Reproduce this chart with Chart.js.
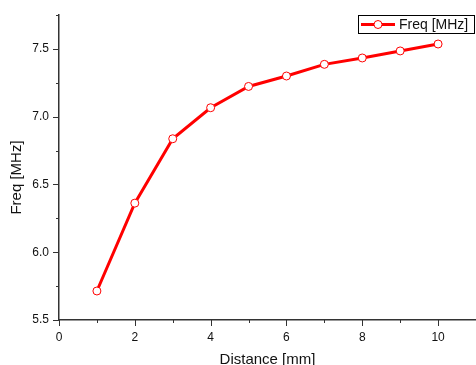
<!DOCTYPE html>
<html><head><meta charset="utf-8">
<script src="https://cdn.jsdelivr.net/npm/chart.js@4.4.0/dist/chart.umd.min.js"></script>
<style>html,body{margin:0;padding:0;background:#fff;overflow:hidden}#wrap{width:476px;height:365px;position:relative}</style>
</head><body><div id="wrap"><canvas id="c" width="476" height="365"></canvas></div>
<script>
const distances = [1, 2, 3, 4, 5, 6, 7, 8, 9, 10];
const freqs = [5.714, 6.362, 6.837, 7.066, 7.223, 7.300, 7.386, 7.433, 7.485, 7.536];
const seriesLabel = 'Freq [MHz]';
const xTitle = 'Distance [mm]';
const yTitle = 'Freq [MHz]';

const FONT = '"Liberation Sans", Arial, Helvetica, sans-serif';
Chart.defaults.font.family = FONT;
Chart.defaults.color = '#111';

const isHalf = v => Math.abs(v * 2 - Math.round(v * 2)) < 1e-6;

const decor = {
  id: 'decor',
  afterDraw(chart) {
    const {ctx, scales: {x, y}} = chart;
    ctx.save();
    ctx.strokeStyle = '#333';
    ctx.lineWidth = 1;
    ctx.beginPath();
    x.ticks.forEach(t => {
      const px = Math.round(x.getPixelForValue(t.value)) + 0.5;
      const len = (Math.round(t.value) % 2 === 0) ? 6 : 3;
      ctx.moveTo(px, x.top); ctx.lineTo(px, x.top + len);
    });
    y.ticks.forEach(t => {
      const py = Math.round(y.getPixelForValue(t.value)) + 0.5;
      const len = isHalf(t.value) ? 6 : 3;
      ctx.moveTo(y.right - len, py); ctx.lineTo(y.right, py);
    });
    ctx.stroke();

    // y-axis title
    ctx.save();
    ctx.translate(17, (y.top + y.bottom) / 2 + 10);
    ctx.rotate(-Math.PI / 2);
    ctx.fillStyle = '#111';
    ctx.font = '15px ' + FONT;
    ctx.textAlign = 'center';
    ctx.textBaseline = 'middle';
    ctx.fillText(yTitle, 0, 0);
    ctx.restore();

    // legend
    const ds = chart.data.datasets[0];
    ctx.strokeStyle = '#000';
    ctx.lineWidth = 1;
    ctx.strokeRect(358.5, 15.5, 116, 18);
    ctx.strokeStyle = ds.borderColor;
    ctx.lineWidth = ds.borderWidth;
    ctx.beginPath(); ctx.moveTo(361, 24.5); ctx.lineTo(395, 24.5); ctx.stroke();
    ctx.beginPath(); ctx.arc(378, 24.5, ds.pointRadius, 0, Math.PI * 2);
    ctx.fillStyle = ds.pointBackgroundColor; ctx.fill();
    ctx.lineWidth = ds.pointBorderWidth; ctx.strokeStyle = ds.pointBorderColor; ctx.stroke();
    ctx.fillStyle = '#111';
    ctx.font = '14px ' + FONT;
    ctx.textAlign = 'left';
    ctx.textBaseline = 'middle';
    ctx.fillText(ds.label, 399, 25);
    ctx.restore();
  }
};

new Chart(document.getElementById('c'), {
  type: 'line',
  data: {
    datasets: [{
      label: seriesLabel,
      data: distances.map((d, i) => ({x: d, y: freqs[i]})),
      borderColor: '#ff0000',
      borderWidth: 3,
      pointRadius: 4,
      pointBorderWidth: 1,
      pointBorderColor: '#ff0000',
      pointBackgroundColor: '#ffffff',
      tension: 0,
      clip: false
    }]
  },
  options: {
    responsive: false,
    animation: false,
    devicePixelRatio: 1,
    layout: {autoPadding: false, padding: {top: 15, right: 0, left: 0, bottom: 0}},
    plugins: {legend: {display: false}, tooltip: {enabled: false}},
    scales: {
      x: {
        type: 'linear', min: 0, max: 11,
        ticks: {stepSize: 1, autoSkip: false, maxRotation: 0, padding: 4,
          font: {size: 12}, color: '#111',
          callback: v => (Math.round(v) % 2 === 0 ? String(v) : '')},
        grid: {drawOnChartArea: false, drawTicks: true, tickLength: 6, tickColor: 'rgba(0,0,0,0)'},
        border: {color: '#333', width: 1.5},
        title: {display: true, text: xTitle, font: {size: 15}, color: '#111', padding: {top: 0, bottom: -3.5}},
        afterFit: s => { s.height = 45; s.paddingLeft = 0; s.paddingRight = 0; }
      },
      y: {
        type: 'linear', min: 5.5, max: 7.75,
        ticks: {stepSize: 0.25, autoSkip: false, padding: 4, font: {size: 12}, color: '#111',
          callback: v => (isHalf(v) ? v.toFixed(1) : '')},
        grid: {drawOnChartArea: false, drawTicks: true, tickLength: 6, tickColor: 'rgba(0,0,0,0)'},
        border: {color: '#333', width: 1.5},
        title: {display: false},
        afterFit: s => { s.width = 59; s.paddingTop = 0; s.paddingBottom = 0; }
      }
    }
  },
  plugins: [decor]
});
</script></body></html>
